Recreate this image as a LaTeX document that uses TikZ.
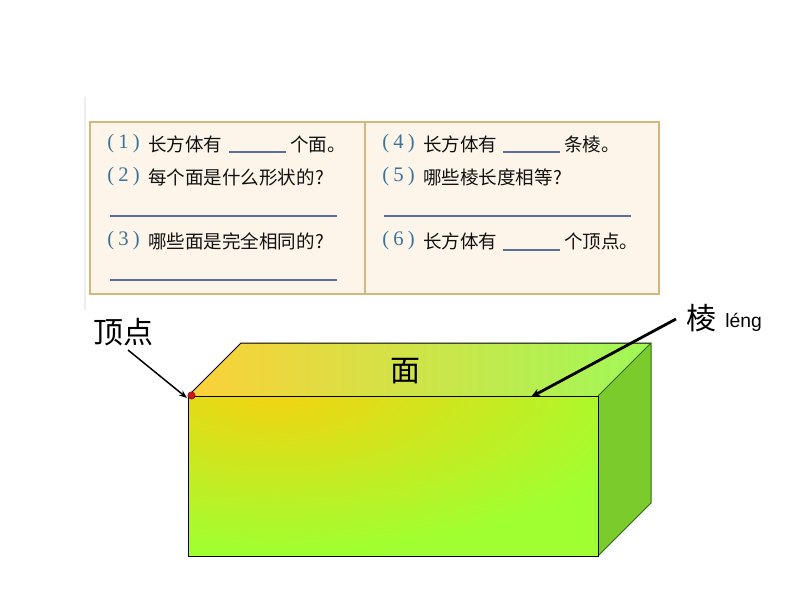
\documentclass[tikz,border=0pt]{standalone}
\usepackage{fontspec}
\setmainfont{Liberation Serif}
\newfontfamily\cjk{Noto Sans CJK SC}
\newfontfamily\arialf{Liberation Sans}
\usetikzlibrary{arrows.meta}
\definecolor{boxfill}{HTML}{FDF5E9}
\definecolor{boxline}{HTML}{D3B77F}
\definecolor{numblue}{HTML}{3F7499}
\definecolor{ruleblue}{HTML}{5A6E98}
\definecolor{txtblack}{HTML}{111111}
\definecolor{topL}{HTML}{FCD038}
\definecolor{topR}{HTML}{A0F858}
\definecolor{sidec}{HTML}{7CCB2C}
\definecolor{frontY}{HTML}{F4D210}
\definecolor{frontG}{HTML}{A0FF30}
\definecolor{darkedge}{HTML}{2F6A10}
\tikzset{
  x=0.75pt,y=-0.75pt,
  qtext/.style={anchor=west,inner sep=0pt,text=txtblack,font=\cjk\fontsize{13.9pt}{14pt}\selectfont},
  qnum/.style={anchor=west,inner sep=0pt,text=numblue,font=\fontsize{15.5pt}{15pt}\selectfont},
  blank/.style={draw=ruleblue,line width=0.9pt},
  biglabel/.style={inner sep=0pt,text=black,font=\cjk\fontsize{22.5pt}{22pt}\selectfont},
  cubeedge/.style={draw=black,line width=0.75pt,line join=round},
  sideedge/.style={draw=darkedge,line width=0.75pt,line join=round},
}
\begin{document}
\begin{tikzpicture}
\useasboundingbox (0,0) rectangle (794,596);
\fill[white] (0,0) rectangle (794,596);
\draw[black!7,line width=0.8pt] (85,97) -- (85,310);
% question panel
\draw[boxline,line width=1pt,fill=boxfill] (90,122) rectangle (659,294);
\coordinate (divT) at (365,122);
\coordinate (divB) at (365,294);
\draw[boxline,line width=1pt] (divT) -- (divB);
% left column
\node[qnum] (n1) at (107,144) {(\kern3.2pt 1\kern3.2pt )};
\node[qtext] (t1) at (148,144) {长方体有};
\node[qtext] (t1b) at (290,144) {个面。};
\draw[blank] (229,152) -- (286,152);
\node[qnum] (n2) at (107,177) {(\kern3.2pt 2\kern3.2pt )};
\node[qtext] (t2) at (148,177) {每个面是什么形状的?};
\draw[blank] (110,216) -- (337,216);
\node[qnum] (n3) at (107,241) {(\kern3.2pt 3\kern3.2pt )};
\node[qtext] (t3) at (148,241) {哪些面是完全相同的?};
\draw[blank] (110,280) -- (337,280);
% right column
\node[qnum] (n4) at (382,144) {(\kern3.2pt 4\kern3.2pt )};
\node[qtext] (t4) at (423,144) {长方体有};
\node[qtext] (t4b) at (564,144) {条棱。};
\draw[blank] (503,152) -- (560,152);
\node[qnum] (n5) at (382,177) {(\kern3.2pt 5\kern3.2pt )};
\node[qtext] (t5) at (423,177) {哪些棱长度相等?};
\draw[blank] (384,216) -- (631,216);
\node[qnum] (n6) at (382,241) {(\kern3.2pt 6\kern3.2pt )};
\node[qtext] (t6) at (423,241) {长方体有};
\node[qtext] (t6b) at (564,241) {个顶点。};
\draw[blank] (503,250) -- (560,250);
% cuboid: top
\begin{scope}
\clip (188,396) -- (241,343) -- (651,343) -- (598,396) -- cycle;
\shade[left color=topL,right color=topR] (188,343) rectangle (651,396);
\end{scope}
\draw[cubeedge] (188,396) -- (241,343) -- (651,343);
% cuboid: side
\fill[sidec] (598,396) -- (651,343) -- (651,503) -- (598,556) -- cycle;
\draw[sideedge] (598,396) -- (651,343) -- (651,503) -- (598,556);
% cuboid: front
\begin{scope}
\clip (188,396) rectangle (598,556);
\fill[frontG] (188,396) rectangle (598,556);
\shade[inner color=frontY,outer color=frontG] (275,388) ellipse [x radius=390, y radius=165];
\end{scope}
\draw[cubeedge] (188,396) -- (598,396);
\draw[cubeedge] (598,396) -- (598,556) -- (188,556) -- (188,396);
% labels
\node[biglabel] (face) at (405,371) {面};
\node[biglabel,anchor=west] (vertex) at (93,332) {顶点};
\node[biglabel,anchor=west] (edge) at (686,318) {棱};
\node[anchor=base west,inner sep=0pt,font=\arialf\fontsize{14.5pt}{14pt}\selectfont] (pinyin) at (725,327) {léng};
% vertex dot
\node[circle,fill={rgb,255:red,208;green,20;blue,28},draw={rgb,255:red,130;green,15;blue,20},line width=0.4pt,minimum size=5.5pt,inner sep=0pt] (dot) at (191.5,395.5) {};
% arrows
\coordinate (vfrom) at (128,350);
\coordinate (vto) at (187,398);
\coordinate (efrom) at (676,319);
\coordinate (eto) at (531,397);
\draw[-{Stealth[length=6pt,width=4.5pt]},line width=1.1pt,black] (vfrom) -- (vto);
\draw[-{Stealth[length=7pt,width=6pt]},line width=2.1pt,black] (efrom) -- (eto);
\end{tikzpicture}
\end{document}
